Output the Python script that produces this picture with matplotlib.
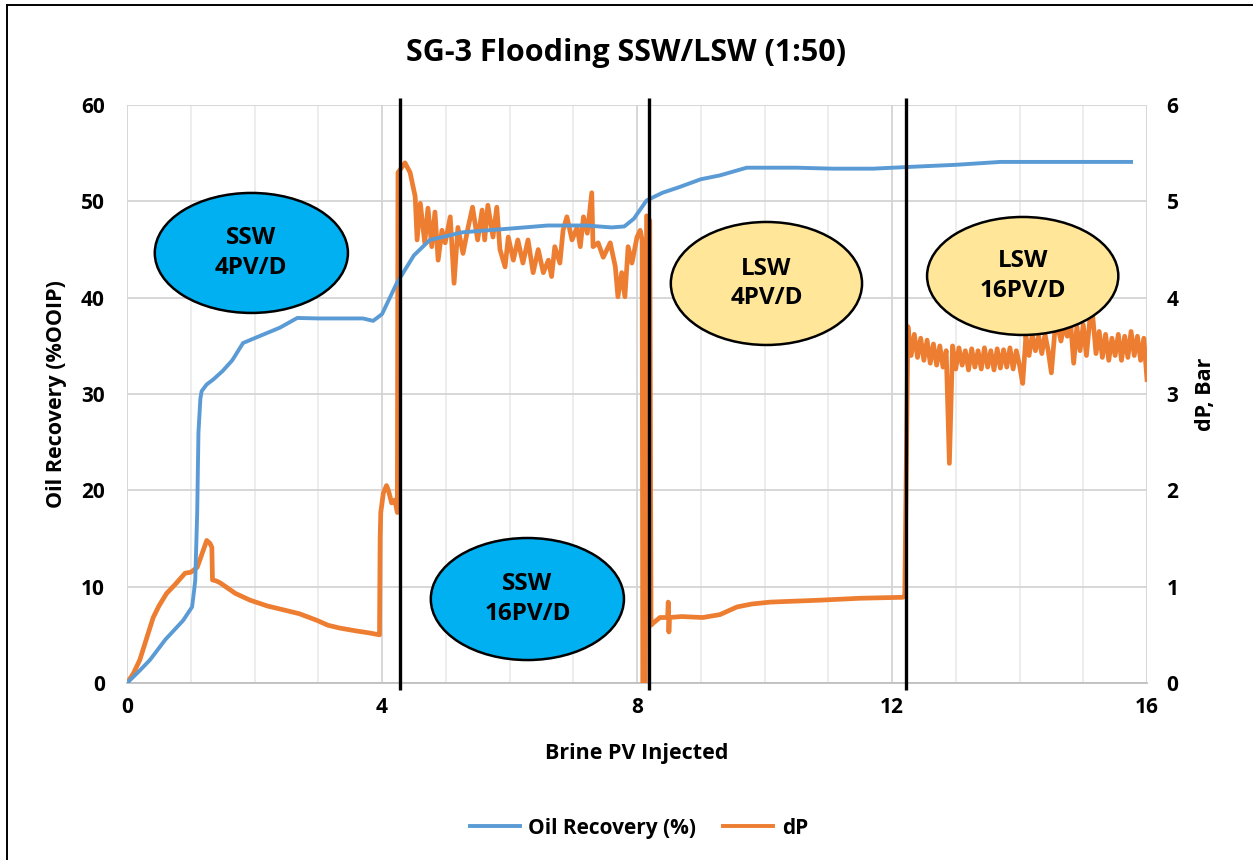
import numpy as np
import matplotlib.pyplot as plt
from matplotlib.patches import Ellipse
from matplotlib.lines import Line2D

plt.rcParams['font.family'] = ['Open Sans', 'DejaVu Sans']
plt.rcParams['font.weight'] = 'bold'

BLUE = '#5B9BD5'
ORANGE = '#ED7D31'

# oil recovery (% OOIP) vs brine PV injected
rec_pv = [0, 0.2, 0.36, 0.6, 0.88, 0.95, 1.02, 1.05, 1.07, 1.1, 1.12, 1.15, 1.17,
          1.25, 1.35, 1.5, 1.65, 1.82, 2.0, 2.4, 2.67, 3.0, 3.7, 3.86, 4.0, 4.23,
          4.5, 4.75, 5.27, 6.05, 6.6, 7.2, 7.6, 7.8, 7.95, 8.15, 8.4, 8.67, 9.0,
          9.3, 9.72, 10.5, 11.07, 11.7, 12.33, 13.0, 13.7, 14.5, 15.75]
rec_pct = [0, 1.3, 2.4, 4.5, 6.5, 7.2, 7.9, 9.5, 10.7, 17.6, 26.0, 29.5, 30.3,
           31.0, 31.5, 32.4, 33.5, 35.3, 35.8, 36.9, 37.9, 37.85, 37.85, 37.6, 38.3,
           41.5, 44.4, 46.0, 46.8, 47.2, 47.5, 47.5, 47.3, 47.4, 48.2, 50.1, 50.9,
           51.5, 52.3, 52.7, 53.5, 53.5, 53.4, 53.4, 53.6, 53.8, 54.1, 54.1, 54.1]

# dP (bar): SSW 4 PV/D stage
dp_pv_ssw4 = [0, 0.1, 0.2, 0.3, 0.41, 0.5, 0.62, 0.75, 0.91, 1.0, 1.1, 1.18, 1.25,
              1.3, 1.33, 1.34, 1.4, 1.46, 1.7, 1.93, 2.2, 2.45, 2.7, 2.98, 3.15,
              3.34, 3.6, 3.8, 3.96, 3.97, 3.98, 4.02, 4.07, 4.1, 4.15, 4.2, 4.24]
dp_ssw4 = [0, 0.1, 0.24, 0.45, 0.68, 0.8, 0.93, 1.02, 1.14, 1.15, 1.2, 1.35, 1.48,
           1.45, 1.41, 1.07, 1.06, 1.04, 0.93, 0.86, 0.8, 0.76, 0.72, 0.65, 0.6,
           0.57, 0.54, 0.52, 0.5, 1.5, 1.77, 1.97, 2.05, 2.0, 1.87, 1.9, 1.77]

# dP: SSW 16 PV/D stage (noisy)
dp_pv_ssw16 = [4.25, 4.36, 4.44, 4.52, 4.55, 4.6, 4.67, 4.72, 4.78, 4.83, 4.88, 4.94,
               4.99, 5.07, 5.13, 5.19, 5.27, 5.35, 5.42, 5.5, 5.57, 5.61, 5.66, 5.74,
               5.8, 5.85, 5.93, 5.98, 6.06, 6.13, 6.21, 6.29, 6.37, 6.45, 6.53, 6.61,
               6.66, 6.71, 6.79, 6.84, 6.9, 6.98, 7.06, 7.11, 7.16, 7.22, 7.29, 7.31,
               7.39, 7.47, 7.58, 7.66, 7.7, 7.76, 7.81, 7.86, 7.92, 8.0, 8.05, 8.08]
dp_ssw16 = [5.3, 5.4, 5.3, 5.05, 4.6, 4.98, 4.57, 4.93, 4.53, 4.89, 4.39, 4.7,
            4.57, 4.84, 4.15, 4.73, 4.46, 4.73, 4.94, 4.6, 4.91, 4.6, 4.96, 4.63,
            4.94, 4.5, 4.32, 4.63, 4.39, 4.6, 4.36, 4.6, 4.26, 4.5, 4.26, 4.39,
            4.22, 4.53, 4.36, 4.7, 4.84, 4.6, 4.73, 4.53, 4.84, 4.67, 5.09, 4.53,
            4.57, 4.42, 4.57, 4.32, 4.01, 4.26, 4.01, 4.53, 4.36, 4.63, 4.7, 4.6]

# dP: LSW 4 PV/D stage
dp_pv_lsw4 = [8.09, 8.13, 8.15, 8.2, 8.22, 8.25, 8.36, 8.45, 8.48, 8.49, 8.5, 8.51,
              8.7, 9.03, 9.3, 9.57, 9.8, 10.09, 10.5, 10.87, 11.5, 12.17, 12.2]
dp_lsw4 = [0.0, 0.0, 4.85, 4.8, 0.6, 0.62, 0.68, 0.68, 0.68, 0.84, 0.53, 0.68,
           0.69, 0.68, 0.71, 0.79, 0.82, 0.84, 0.85, 0.86, 0.88, 0.89, 0.9]

# dP: LSW 16 PV/D stage (noisy), read every 0.05 PV from 12.25 to 16.0
dp_lsw16 = [3.70, 3.40, 3.62, 3.38, 3.58, 3.35, 3.56, 3.32, 3.52, 3.30, 3.50, 3.28,
            3.45, 2.28, 3.50, 3.26, 3.48, 3.30, 3.45, 3.25, 3.47, 3.28, 3.45, 3.26,
            3.48, 3.28, 3.45, 3.25, 3.47, 3.27, 3.46, 3.28, 3.48, 3.26, 3.45, 3.30,
            3.11, 3.60, 3.40, 3.62, 3.45, 3.60, 3.42, 3.62, 3.45, 3.22, 3.62, 3.70,
            3.55, 3.72, 3.60, 3.75, 3.32, 3.70, 3.45, 3.72, 3.40, 3.75, 3.80, 3.42,
            3.65, 3.38, 3.62, 3.35, 3.58, 3.40, 3.62, 3.35, 3.60, 3.38, 3.65, 3.40,
            3.60, 3.35, 3.58, 3.15]
dp_pv_lsw16 = np.linspace(12.25, 16.0, len(dp_lsw16))

# stage switch points (PV) and stage labels
switch_pv = [4.28, 8.19, 12.22]
stage_labels = ['SSW\n4PV/D', 'SSW\n16PV/D', 'LSW\n4PV/D', 'LSW\n16PV/D']
stage_colors = ['#00B0F0', '#00B0F0', '#FFE699', '#FFE699']
stage_xy = [(1.95, 4.465), (6.28, 0.872), (10.03, 4.148), (14.05, 4.226)]
stage_wh = [(3.03, 1.246), (3.03, 1.267), (3.0, 1.277), (3.0, 1.225)]

dp_pv = np.concatenate([dp_pv_ssw4, dp_pv_ssw16, dp_pv_lsw4, dp_pv_lsw16])
dp_bar = np.concatenate([dp_ssw4, dp_ssw16, dp_lsw4, dp_lsw16])

fig = plt.figure(figsize=(12.53, 8.6), dpi=100)
ax = fig.add_axes([0.1014, 0.2058, 0.814, 0.672])   # dP axis (grid, right ticks)
ax_rec = ax.twinx()                                # recovery axis (left ticks)

# dP, bar
ax.plot(dp_pv, dp_bar, color=ORANGE, lw=3.4, zorder=3, solid_joinstyle='round')
ax.set_xlim(0, 16)
ax.set_ylim(0, 6)
ax.set_xticks(np.arange(0, 17, 4))
ax.set_xticks(np.arange(0, 17, 1), minor=True)
ax.set_yticks(np.arange(0, 7, 1))
ax.grid(True, which='major', color='#d4d4d4', lw=1.3)
ax.grid(True, which='minor', axis='x', color='#ececec', lw=1.3)
ax.set_axisbelow(True)
for s in ['top', 'left', 'right']:
    ax.spines[s].set_visible(False)
ax.spines['bottom'].set_color('#bfbfbf')
ax.spines['bottom'].set_linewidth(1.3)
ax.yaxis.tick_right()
ax.yaxis.set_label_position('right')
ax.tick_params(which='both', length=0)
ax.tick_params(axis='y', pad=14, labelsize=15)
ax.tick_params(axis='x', pad=10, labelsize=15)
ax.set_ylabel('dP, Bar', fontsize=15.5, fontweight='bold', labelpad=12)
ax.set_xlabel('Brine PV Injected', fontsize=15.5, fontweight='bold', labelpad=18)

# stage bubbles
for (cx, cy), (w, h), txt, col in zip(stage_xy, stage_wh, stage_labels, stage_colors):
    ax.add_patch(Ellipse((cx, cy), w, h, facecolor=col, edgecolor='black',
                         lw=1.8, zorder=5))
    ax.text(cx, cy, txt, ha='center', va='center', fontsize=17.5,
            fontweight='bold', linespacing=1.3, zorder=6)

# oil recovery
ax_rec.plot(rec_pv, rec_pct, color=BLUE, lw=2.8, zorder=3)
ax_rec.set_ylim(0, 60)
ax_rec.set_yticks(np.arange(0, 61, 10))
ax_rec.yaxis.tick_left()
ax_rec.yaxis.set_label_position('left')
ax_rec.tick_params(length=0, pad=16, labelsize=15)
for s in ax_rec.spines.values():
    s.set_visible(False)
ax_rec.set_ylabel('Oil Recovery (%OOIP)', fontsize=15.5, fontweight='bold', labelpad=10)

for x in switch_pv:
    ax_rec.plot([x, x], [-0.7, 60.7], color='black', lw=2.4, zorder=4,
                clip_on=False, solid_capstyle='butt')

fig.suptitle('SG-3 Flooding SSW/LSW (1:50)', y=0.956, fontsize=22, fontweight='bold')

handles = [Line2D([], [], color=BLUE, lw=2.8), Line2D([], [], color=ORANGE, lw=2.8)]
fig.legend(handles, ['Oil Recovery (%)', 'dP'], loc='center', ncol=2,
           bbox_to_anchor=(0.51, 0.037), frameon=False, fontsize=15,
           handlelength=2.4, handletextpad=0.4, columnspacing=1.3)

# chart frame
fig.add_artist(Line2D([7 / 1253, 7 / 1253], [0, 1 - 5 / 860], color='black', lw=1.4))
fig.add_artist(Line2D([7 / 1253, 1], [1 - 5 / 860, 1 - 5 / 860], color='black', lw=1.4))

fig.savefig('out.png', dpi=100, facecolor='white')
